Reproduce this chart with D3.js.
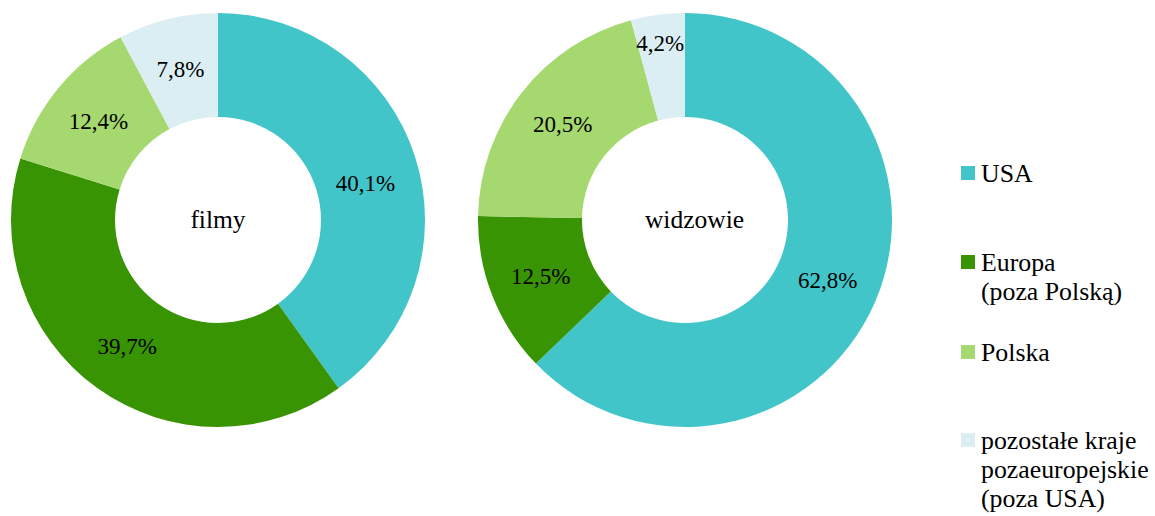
<!DOCTYPE html>
<html>
<head>
<meta charset="utf-8">
<script src="https://cdn.jsdelivr.net/npm/d3@7"></script>
<style>
  html, body { margin: 0; padding: 0; background: #fff; }
  svg text { font-family: "Liberation Serif", "Times New Roman", Times, "DejaVu Serif", serif; }
</style>
</head>
<body>
<svg id="chart" width="1155" height="516"></svg>
<script>
// Categories shared by both rings
const categories = ["USA", "Europa", "Polska", "pozostałe"];
const legendLabels = [
  ["USA"],
  ["Europa", "(poza Polską)"],
  ["Polska"],
  ["pozostałe kraje", "pozaeuropejskie", "(poza USA)"]
];
const colors = ["#42c5c9", "#389403", "#a5d86e", "#daeef3"];

// Shares (%) — films released and audience
const filmyValues = [40.1, 39.7, 12.4, 7.8];
const widzowieValues = [62.8, 12.5, 20.5, 4.2];
const ringTitles = ["filmy", "widzowie"];

const FONT = '"Liberation Serif", "Times New Roman", Times, "DejaVu Serif", serif';
const fmt = v => d3.format(".1f")(v).replace(".", ",") + "%";

const svg = d3.select("#chart");
const color = d3.scaleOrdinal().domain(categories).range(colors);

const outerR = 207, innerR = 103, labelR = 155;
const pie = d3.pie().sort(null).value(d => d.value).startAngle(0).endAngle(2 * Math.PI);
const arc = d3.arc().innerRadius(innerR).outerRadius(outerR);
const labelArc = d3.arc().innerRadius(labelR).outerRadius(labelR);

// Small label adjustments where the text would otherwise crowd an edge
const labelNudge = {
  "filmy|USA": [0, 11],
  "widzowie|pozostałe": [-4.5, -23.5]
};
const titleNudge = { filmy: 0, widzowie: 9.5 };

const rings = [
  { title: ringTitles[0], values: filmyValues, cx: 218, cy: 220 },
  { title: ringTitles[1], values: widzowieValues, cx: 685, cy: 220 }
];

rings.forEach(ring => {
  const data = categories.map((c, i) => ({ cat: c, value: ring.values[i] }));
  const g = svg.append("g").attr("transform", `translate(${ring.cx},${ring.cy})`);
  const arcs = pie(data);

  g.selectAll("path.slice")
    .data(arcs)
    .join("path")
    .attr("class", "slice")
    .attr("d", arc)
    .attr("fill", d => color(d.data.cat));

  g.selectAll("text.val")
    .data(arcs)
    .join("text")
    .attr("class", "val")
    .attr("transform", d => {
      const [x, y] = labelArc.centroid(d);
      const n = labelNudge[ring.title + "|" + d.data.cat] || [0, 0];
      return `translate(${x + n[0]},${y + n[1]})`;
    })
    .attr("text-anchor", "middle")
    .attr("dy", "0.34em")
    .attr("font-family", FONT)
    .attr("font-size", 23)
    .attr("fill", "#000")
    .text(d => fmt(d.data.value));

  g.append("text")
    .attr("x", titleNudge[ring.title])
    .attr("y", 7.5)
    .attr("text-anchor", "middle")
    .attr("font-family", FONT)
    .attr("font-size", 25.5)
    .attr("fill", "#000")
    .text(ring.title);
});

// Legend
const legendBaselines = [182, 271, 361, 449];
const lineH = 29;
const legend = svg.append("g");
categories.forEach((c, i) => {
  const item = legend.append("g");
  item.append("rect")
    .attr("x", 961)
    .attr("y", legendBaselines[i] - 16)
    .attr("width", 14)
    .attr("height", 14)
    .attr("fill", color(c));
  const t = item.append("text")
    .attr("x", 981)
    .attr("y", legendBaselines[i])
    .attr("font-family", FONT)
    .attr("font-size", 25.8)
    .attr("fill", "#000");
  legendLabels[i].forEach((line, j) => {
    t.append("tspan")
      .attr("x", 981)
      .attr("y", legendBaselines[i] + j * lineH)
      .text(line);
  });
});
</script>
</body>
</html>
